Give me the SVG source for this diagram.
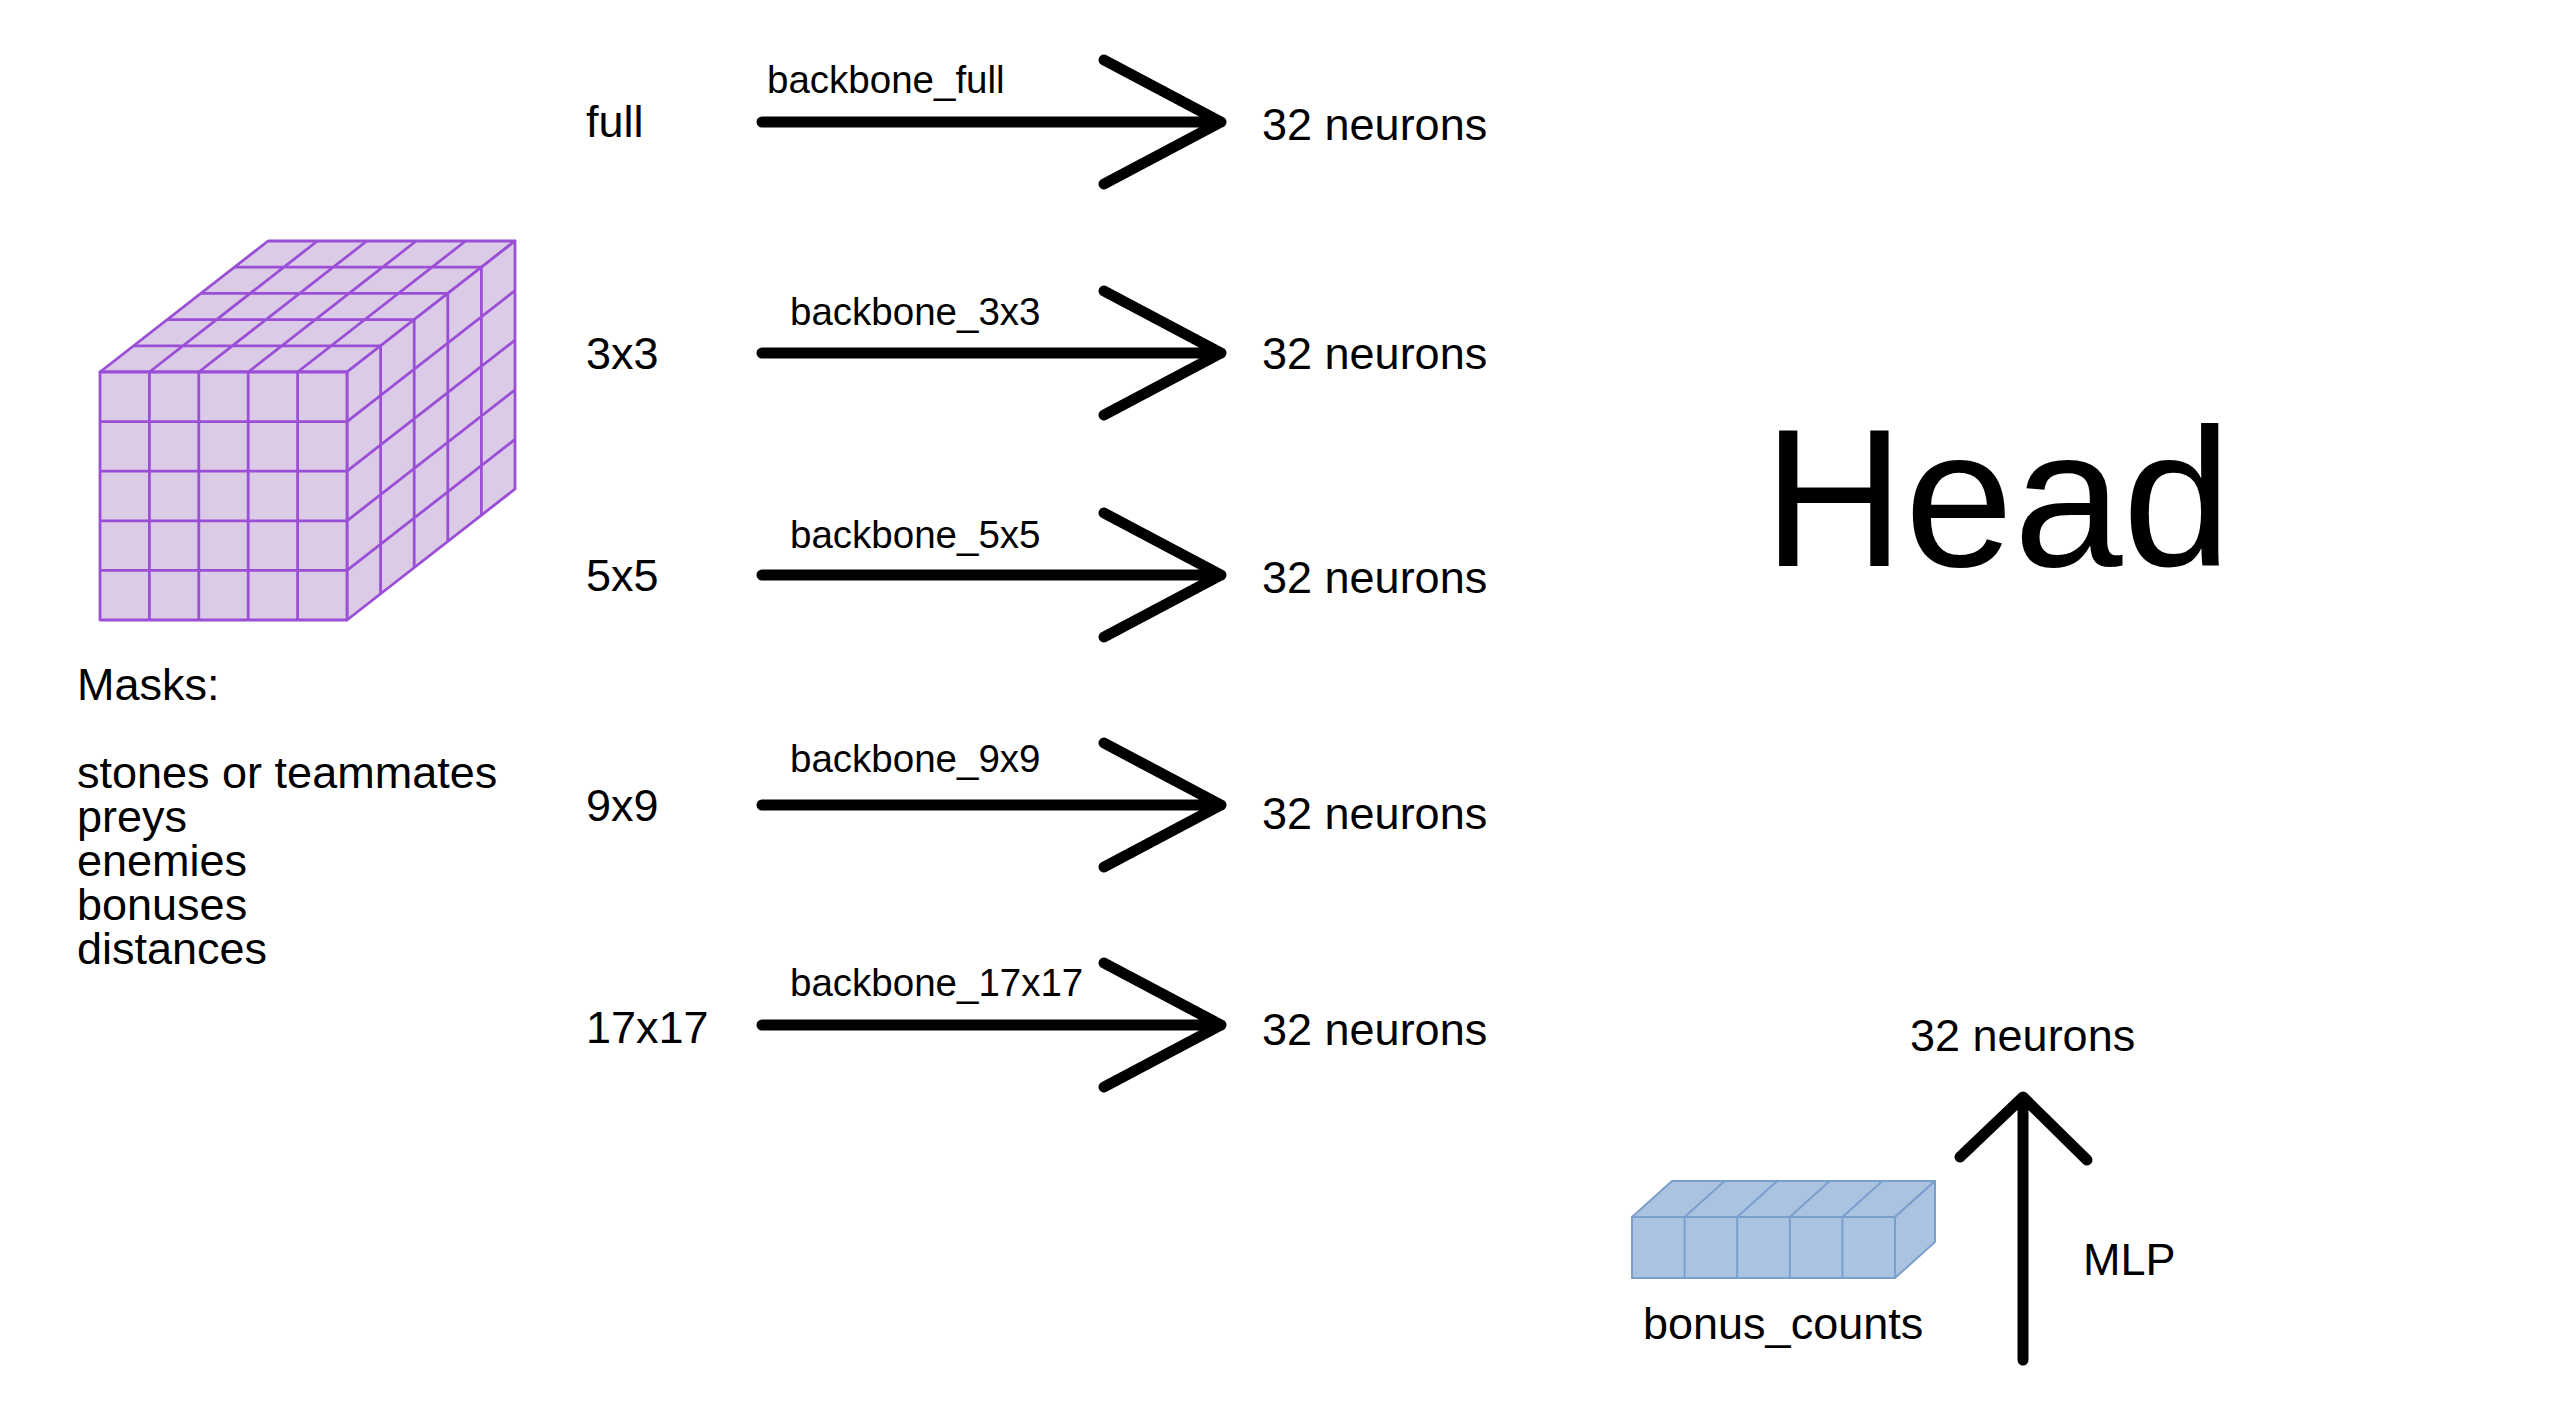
<svg xmlns="http://www.w3.org/2000/svg" width="2560" height="1424" viewBox="0 0 2560 1424">
<style>
text{font-family:"Liberation Sans",Arial,Helvetica,sans-serif;fill:#000}
.lbl{font-size:45px}
.bb{font-size:38.5px}
.head{font-size:196px}
.arr{fill:none;stroke:#000;stroke-width:11;stroke-linecap:round;stroke-linejoin:round}
.cube{fill:#dccbe6;stroke:#9a4fd6;stroke-width:2.8;stroke-linejoin:round}
.cl{stroke:#9a4fd6;stroke-width:2.8;fill:none}
.box{fill:#a9c3e1;stroke:#7b9fcd;stroke-width:2;stroke-linejoin:round}
.bl{stroke:#7b9fcd;stroke-width:2;fill:none}
</style>
<rect width="2560" height="1424" fill="#fff"/>
<g id="cube">
<polygon class="cube" points="100,372 347,372 515,241 268,241"/>
<polygon class="cube" points="347,372 515,241 515,489 347,620"/>
<rect class="cube" x="100" y="372" width="247" height="248"/>
<path class="cl" d="M133.6,345.8H380.6M167.2,319.6H414.2M200.8,293.4H447.8M234.4,267.2H481.4
M149.4,372L317.4,241M198.8,372L366.8,241M248.2,372L416.2,241M297.6,372L465.6,241
M380.6,345.8V593.8M414.2,319.6V567.6M447.8,293.4V541.4M481.4,267.2V515.2
M347,421.6L515,290.6M347,471.2L515,340.2M347,520.8L515,389.8M347,570.4L515,439.4
M149.4,372V620M198.8,372V620M248.2,372V620M297.6,372V620
M100,421.6H347M100,471.2H347M100,520.8H347M100,570.4H347"/>
</g>
<g id="masks">
<text class="lbl" x="77" y="700">Masks:</text>
<text class="lbl" x="77" y="788">stones or teammates</text>
<text class="lbl" x="77" y="832">preys</text>
<text class="lbl" x="77" y="876">enemies</text>
<text class="lbl" x="77" y="920">bonuses</text>
<text class="lbl" x="77" y="964">distances</text>
</g>
<g id="inputs">
<text class="lbl" x="586" y="137">full</text>
<text class="lbl" x="586" y="369">3x3</text>
<text class="lbl" x="586" y="591">5x5</text>
<text class="lbl" x="586" y="821">9x9</text>
<text class="lbl" x="586" y="1043">17x17</text>
</g>
<g id="outputs">
<text class="lbl" x="1262" y="140">32 neurons</text>
<text class="lbl" x="1262" y="369">32 neurons</text>
<text class="lbl" x="1262" y="593">32 neurons</text>
<text class="lbl" x="1262" y="829">32 neurons</text>
<text class="lbl" x="1262" y="1045">32 neurons</text>
</g>
<g id="head">
<text class="head" x="1763" y="566">Head</text>
</g>
<g id="bonus_counts">
<polygon class="box" points="1632,1217 1895,1217 1935,1181 1672,1181"/>
<polygon class="box" points="1895,1217 1935,1181 1935,1242 1895,1278"/>
<rect class="box" x="1632" y="1217" width="263" height="61"/>
<path class="bl" d="M1684.6,1217V1278M1737.2,1217V1278M1789.8,1217V1278M1842.4,1217V1278
M1684.6,1217L1724.6,1181M1737.2,1217L1777.2,1181M1789.8,1217L1829.8,1181M1842.4,1217L1882.4,1181"/>
<text class="lbl" x="1643" y="1339">bonus_counts</text>
</g>
<g id="mlp_out">
<text class="lbl" x="1910" y="1051">32 neurons</text>
</g>
<g id="connectors">
<path class="arr" d="M762,122H1221M1104,60L1221,122L1104,184"/>
<path class="arr" d="M762,353H1221M1104,291L1221,353L1104,415"/>
<path class="arr" d="M762,575H1221M1104,513L1221,575L1104,637"/>
<path class="arr" d="M762,805H1221M1104,743L1221,805L1104,867"/>
<path class="arr" d="M762,1025H1221M1104,963L1221,1025L1104,1087"/>
<path class="arr" d="M2023,1360V1097M1960,1157L2023,1097L2087,1160"/>
<text class="bb" x="767" y="93">backbone_full</text>
<text class="bb" x="790" y="325">backbone_3x3</text>
<text class="bb" x="790" y="548">backbone_5x5</text>
<text class="bb" x="790" y="772">backbone_9x9</text>
<text class="bb" x="790" y="996">backbone_17x17</text>
<text class="lbl" x="2083" y="1275">MLP</text>
</g>
</svg>
